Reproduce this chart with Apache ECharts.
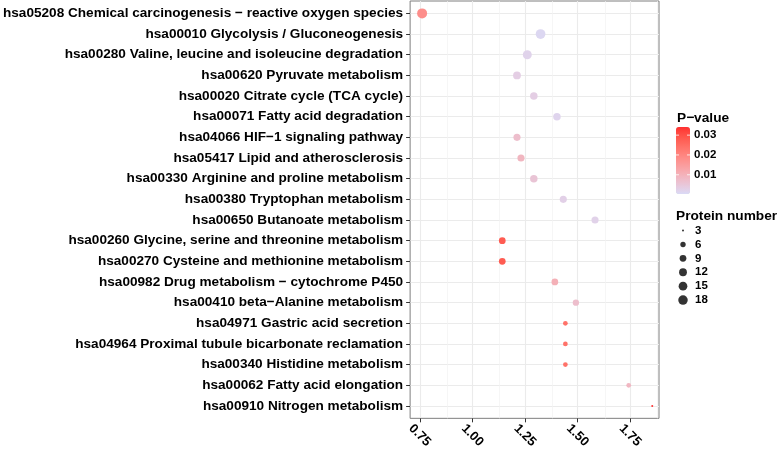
<!DOCTYPE html>
<html><head><meta charset="utf-8">
<script src="https://cdn.jsdelivr.net/npm/echarts@6/dist/echarts.min.js"></script>
<style>html,body{margin:0;padding:0;background:#fff}#c{width:778px;height:451px}</style>
</head><body><div id="c"></div>
<script>
// ---- data ----
const pathways = [
  'hsa05208 Chemical carcinogenesis − reactive oxygen species',
  'hsa00010 Glycolysis / Gluconeogenesis',
  'hsa00280 Valine, leucine and isoleucine degradation',
  'hsa00620 Pyruvate metabolism',
  'hsa00020 Citrate cycle (TCA cycle)',
  'hsa00071 Fatty acid degradation',
  'hsa04066 HIF−1 signaling pathway',
  'hsa05417 Lipid and atherosclerosis',
  'hsa00330 Arginine and proline metabolism',
  'hsa00380 Tryptophan metabolism',
  'hsa00650 Butanoate metabolism',
  'hsa00260 Glycine, serine and threonine metabolism',
  'hsa00270 Cysteine and methionine metabolism',
  'hsa00982 Drug metabolism − cytochrome P450',
  'hsa00410 beta−Alanine metabolism',
  'hsa04971 Gastric acid secretion',
  'hsa04964 Proximal tubule bicarbonate reclamation',
  'hsa00340 Histidine metabolism',
  'hsa00062 Fatty acid elongation',
  'hsa00910 Nitrogen metabolism'
];
const xValue = [0.761,1.324,1.261,1.212,1.292,1.402,1.212,1.231,1.292,1.432,1.583,1.142,1.142,1.392,1.492,1.442,1.442,1.442,1.743,1.855];
const proteinCount = [20,19,16,12,11,11,10,10,11,10,10,9,9,9,8,5,5,5,5,3];
const pValue = [0.0180,0.0010,0.0020,0.0032,0.0032,0.0017,0.0070,0.0090,0.0055,0.0027,0.0023,0.0280,0.0280,0.0105,0.0070,0.0240,0.0240,0.0240,0.0088,0.0340];
const xTicks = [0.75,1.00,1.25,1.50,1.75];
const xMinorTicks = [0.875,1.125,1.375,1.625,1.875];
const pBreaks = [0.01,0.02,0.03];
const sizeBreaks = [3,6,9,12,15,18];
const pMin = 0.0003, pMax = 0.0341;
const xMin = 0.704, xMax = 1.887;

// ---- styling ----
const FONT = '"Liberation Sans", Arial, Helvetica, sans-serif';
function dotSize(n){ return 2 + 7.5*Math.sqrt(Math.max(n-3,0)/15); }
const rowIdx = pathways.map((_, i) => i);

// Lab interpolation (like ggplot's seq_gradient_pal)
function hex2rgb(h){ return [1,3,5].map(i => parseInt(h.substr(i,2),16)/255); }
function lin(c){ return c <= 0.04045 ? c/12.92 : Math.pow((c+0.055)/1.055, 2.4); }
function unlin(c){ return c <= 0.0031308 ? 12.92*c : 1.055*Math.pow(c,1/2.4)-0.055; }
const WX=0.95047, WY=1, WZ=1.08883;
function f(t){ return t > 216/24389 ? Math.cbrt(t) : (24389/27*t+16)/116; }
function finv(t){ return t*t*t > 216/24389 ? t*t*t : (116*t-16)/(24389/27); }
function toLab(h){
  const [r,g,b] = hex2rgb(h).map(lin);
  const X = (0.4124*r+0.3576*g+0.1805*b)/WX, Y = (0.2126*r+0.7152*g+0.0722*b)/WY, Z = (0.0193*r+0.1192*g+0.9505*b)/WZ;
  return [116*f(Y)-16, 500*(f(X)-f(Y)), 200*(f(Y)-f(Z))];
}
function fromLab([L,a,bb]){
  const fy=(L+16)/116, fx=fy+a/500, fz=fy-bb/200;
  const X=finv(fx)*WX, Y=finv(fy)*WY, Z=finv(fz)*WZ;
  let r= 3.2406*X-1.5372*Y-0.4986*Z, g=-0.9689*X+1.8758*Y+0.0415*Z, b=0.0557*X-0.2040*Y+1.0570*Z;
  const c = [r,g,b].map(v => Math.round(Math.min(1,Math.max(0,unlin(v)))*255));
  return '#'+c.map(v => v.toString(16).padStart(2,'0')).join('');
}
const lowCol = '#dadaf6', highCol = '#ff3030';
const labLow = toLab(lowCol), labHigh = toLab(highCol);
const gradStops = [];
for (let i = 0; i <= 20; i++) { const t=i/20; gradStops.push(fromLab(labLow.map((v,k) => v + (labHigh[k]-v)*t))); }

const barTop = 127, barH = 67, barLeft = 676, barW = 14;
const graphics = [
  {type:'text', x:677, y:118, style:{text:'P−value', font:'bold 13.7px '+FONT, fill:'#000', verticalAlign:'middle'}},
  {type:'text', x:676, y:216, style:{text:'Protein number', font:'bold 13.7px '+FONT, fill:'#000', verticalAlign:'middle'}}
];
pBreaks.forEach(v => {
  const y = barTop + (pMax - v)/(pMax - pMin)*barH;
  graphics.push({type:'text', x:694, y:y, style:{text:v.toFixed(2), font:'bold 11.5px '+FONT, fill:'#000', verticalAlign:'middle'}});
  graphics.push({type:'line', z:100, shape:{x1:barLeft, y1:y, x2:barLeft+3, y2:y}, style:{stroke:'#fff', lineWidth:1, opacity:0.8}});
  graphics.push({type:'line', z:100, shape:{x1:barLeft+barW-3, y1:y, x2:barLeft+barW, y2:y}, style:{stroke:'#fff', lineWidth:1, opacity:0.8}});
});

const chart = echarts.init(document.getElementById('c'));
chart.setOption({
  animation: false,
  backgroundColor: '#fff',
  grid: [
    {left:408, top:1, right:119, bottom:30, show:true, borderColor:'#7f7f7f', borderWidth:1, backgroundColor:'#fff'},
    {left:676, top:223.6, width:14, height:83.4}
  ],
  xAxis: [
    {type:'value', gridIndex:0, min:xMin, max:xMax,
     axisLine:{show:false, onZero:false},
     axisTick:{show:true, customValues:xTicks, length:4, lineStyle:{color:'#333'}},
     axisLabel:{customValues:xTicks, formatter:v => v.toFixed(2), rotate:-45, align:'center', verticalAlign:'middle', margin:17,
       fontFamily:FONT, fontWeight:'bold', fontSize:13, color:'#000'},
     splitLine:{show:true, lineStyle:{color:'#ebebeb', width:1.1}}},
    {type:'value', gridIndex:1, min:-1, max:1, show:false}
  ],
  yAxis: [
    {type:'value', gridIndex:0, min:-0.6, max:19.6, inverse:true,
     axisLine:{show:false, onZero:false},
     axisTick:{show:true, customValues:rowIdx, length:4, lineStyle:{color:'#333'}},
     axisLabel:{customValues:rowIdx, formatter:v => pathways[Math.round(v)], margin:7,
       fontFamily:FONT, fontWeight:'bold', fontSize:13.6, color:'#000'},
     splitLine:{show:true, lineStyle:{color:'#ebebeb', width:1.1}}},
    {type:'category', gridIndex:1, data:sizeBreaks.map(String), inverse:true, position:'right',
     axisLine:{show:false}, axisTick:{show:false}, splitLine:{show:false},
     axisLabel:{interval:0, margin:5, fontFamily:FONT, fontWeight:'bold', fontSize:11.5, color:'#000'}}
  ],
  visualMap: {
    type:'continuous', seriesIndex:0, dimension:3, min:pMin, max:pMax,
    inRange:{color:gradStops},
    left:barLeft, top:barTop, itemWidth:barW, itemHeight:barH, padding:0,
    calculable:false, hoverLink:false, text:null
  },
  series: [
    {type:'scatter', xAxisIndex:0, yAxisIndex:0, z:5,
     data: xValue.map((x, i) => [x, i, proteinCount[i], pValue[i]]),
     symbolSize: v => dotSize(v[2]),
     itemStyle:{opacity:1}},
    {type:'line', xAxisIndex:0, yAxisIndex:0, data:[], z:1, silent:true,
     markLine:{silent:true, symbol:'none', label:{show:false},
       lineStyle:{color:'#f2f2f2', width:0.7, type:'solid'},
       data: xMinorTicks.map(v => ({xAxis:v}))}},
    {type:'scatter', xAxisIndex:1, yAxisIndex:1,
     data: sizeBreaks.map((n, i) => [0, i, n]),
     symbolSize: v => dotSize(v[2]),
     itemStyle:{color:'#000'}}
  ],
  graphic: graphics
});
</script>
</body></html>
